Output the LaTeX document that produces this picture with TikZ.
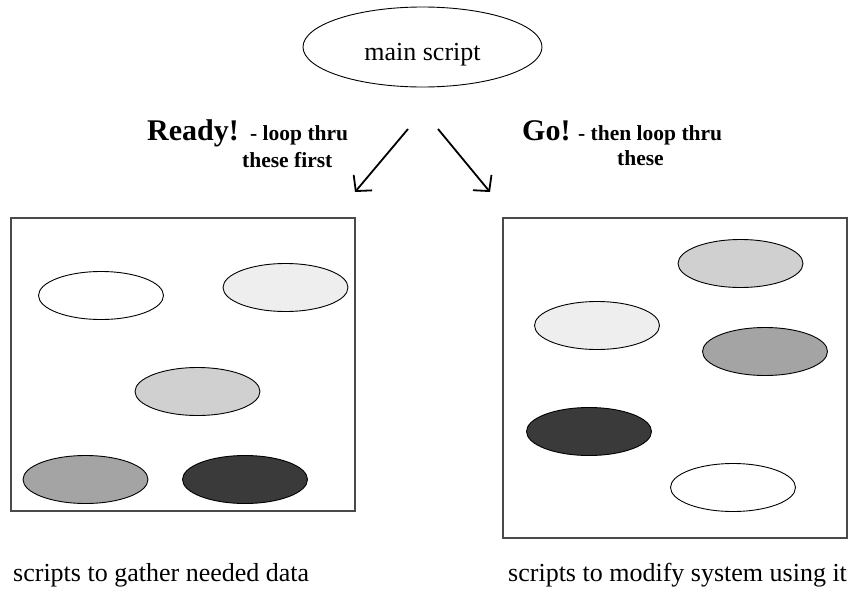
\documentclass[tikz,border=0pt]{standalone}
\usepackage{fontspec}
\setmainfont{Liberation Serif}
\usetikzlibrary{arrows.meta,shapes.geometric}
\definecolor{gA}{HTML}{EEEEEE}
\definecolor{gB}{HTML}{D0D0D0}
\definecolor{gC}{HTML}{A4A4A4}
\definecolor{gD}{HTML}{3A3A3A}
\definecolor{boxgray}{HTML}{4A4A4A}
\tikzset{
  blob/.style={draw=black, line width=0.9pt, ellipse, minimum width=125pt, minimum height=48pt, inner sep=0pt},
  panel/.style={draw=boxgray, line width=1.3pt},
  txt/.style={inner sep=0pt, anchor=base west},
  flow/.style={line width=1.8pt, -{Straight Barb[length=11pt,width=24pt,line width=1.8pt]}},
}
\begin{document}
\begin{tikzpicture}[x=1pt,y=-1pt]
\useasboundingbox (0,0) rectangle (859,589);
% main script
\node[draw=black, line width=0.9pt, ellipse, minimum width=239pt, minimum height=80pt, inner sep=0pt] (main) at (422.5,47) {};
\node[inner sep=0pt, anchor=base, font=\fontsize{26}{30}\selectfont] (maintxt) at (422.5,60) {main script};
% arrows
\coordinate (l1) at (408,129);
\coordinate (l2) at (355,192);
\coordinate (r1) at (438,129);
\coordinate (r2) at (490,192);
\draw[flow] (l1) -- (l2);
\draw[flow] (r1) -- (r2);
% labels
\node[txt, font=\bfseries\fontsize{30}{34}\selectfont] (ready) at (147,140) {Ready!};
\node[txt, font=\bfseries\fontsize{21.5}{25}\selectfont] (readyb) at (250,140) {- loop thru};
\node[txt, font=\bfseries\fontsize{21.5}{25}\selectfont] (readyc) at (242,167) {these first};
\node[txt, font=\bfseries\fontsize{30}{34}\selectfont] (go) at (522,140) {Go!};
\node[txt, font=\bfseries\fontsize{21.5}{25}\selectfont] (gob) at (578,140) {- then loop thru};
\node[txt, font=\bfseries\fontsize{21.5}{25}\selectfont] (goc) at (617,165) {these};
% panels
\draw[panel] (11,218) rectangle (355,511);
\draw[panel] (503,218) rectangle (847,538);
% left ellipses
\node[blob, fill=white] (L1) at (101,295.5) {};
\node[blob, fill=gA] (L2) at (285.5,287.5) {};
\node[blob, fill=gB] (L3) at (197.5,391.5) {};
\node[blob, fill=gC] (L4) at (85.5,479.5) {};
\node[blob, fill=gD] (L5) at (245,479.5) {};
% right ellipses
\node[blob, fill=gB] (R1) at (740.5,263.5) {};
\node[blob, fill=gA] (R2) at (597,325.5) {};
\node[blob, fill=gC] (R3) at (765,351.5) {};
\node[blob, fill=gD] (R4) at (589,431.5) {};
\node[blob, fill=white] (R5) at (733,487.5) {};
% captions
\node[txt, font=\fontsize{26}{30}\selectfont] (capl) at (13,581) {scripts to gather needed data};
\node[txt, font=\fontsize{26}{30}\selectfont] (capr) at (508,581) {scripts to modify system using it};
\end{tikzpicture}
\end{document}
